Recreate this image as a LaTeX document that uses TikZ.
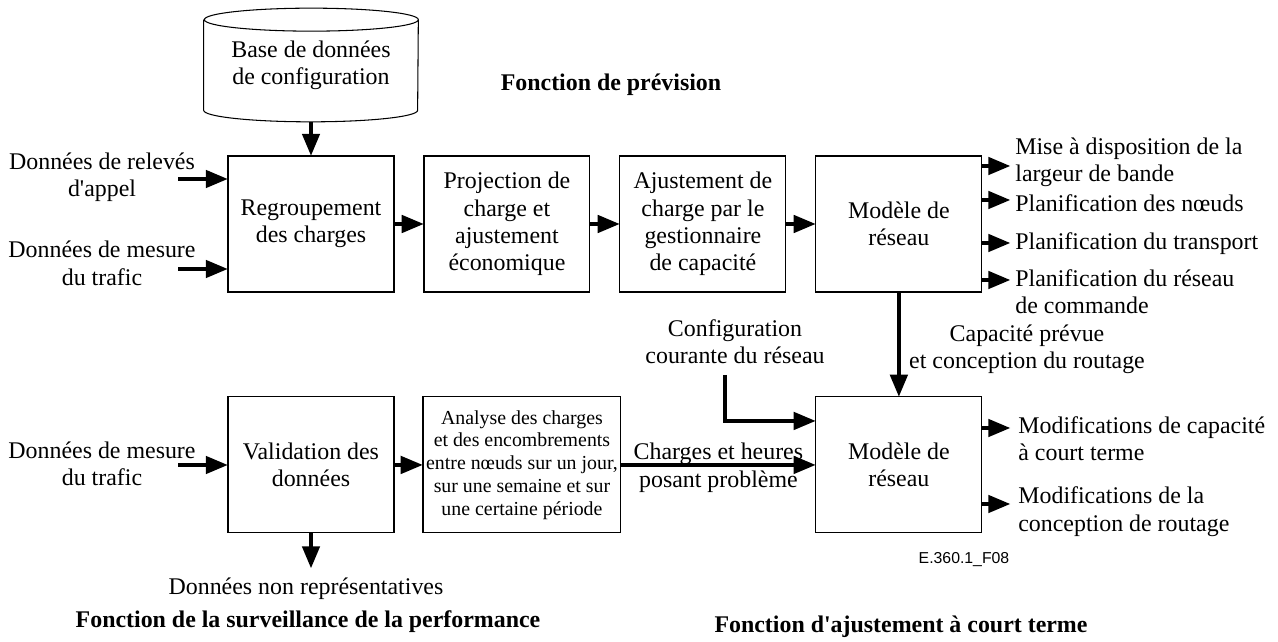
\documentclass[tikz,border=0pt]{standalone}
\usepackage{fontspec}
\setmainfont{Liberation Serif}
\setsansfont{Liberation Sans}
\usepackage{tikz}
\usetikzlibrary{arrows}

\newcommand{\mainsize}{\fontsize{13.6}{15.6}\selectfont}
\newcommand{\smallsize}{\fontsize{11.3}{13}\selectfont}

\tikzstyle{box}     = [rectangle, minimum width=3.32cm, minimum height=2.72cm, text centered, align=center, draw=black, line width=.6pt, inner sep=0pt]
\tikzstyle{txt}     = [align=center, inner sep=0pt]
\tikzstyle{outtxt}  = [align=left, anchor=west, inner sep=0pt]
\tikzstyle{heading} = [font=\mainsize\bfseries, inner sep=0pt]
\tikzstyle{arrow}   = [line width=1.9pt, ->, >=triangle 45]

\begin{document}
\begin{tikzpicture}[x=0.02cm, y=0.02cm, node distance=3.92cm, font=\mainsize]
      \useasboundingbox (0,0) rectangle (1278,642);

      % prevision
      \node (regroup) [box] at (311,418)          {Regroupement\\des charges};
      \node (proj)    [box, right of=regroup]     {Projection de\\charge et\\ajustement\\économique};
      \node (ajust)   [box, right of=proj]        {Ajustement de\\charge par le\\gestionnaire\\de capacité};
      \node (model1)  [box, right of=ajust]       {Modèle de\\réseau};

      \node (db) [rectangle, minimum width=4.28cm, minimum height=1.8cm, inner sep=0pt, align=center] at (311,577) {Base de données\\de configuration};
      \draw [line width=.6pt] (db.north west) -- (db.south west)
            arc [start angle=180, end angle=360, x radius=2.14cm, y radius=.23cm]
            -- (db.north east)
            arc [start angle=0, end angle=360, x radius=2.14cm, y radius=.23cm];

      \node (fprev) [heading] at (611,557) {Fonction de prévision};

      \node (in1) [txt] at (102,465)   {Données de relevés\\d\textquotesingle appel};
      \node (in2) [txt] at (102,378.5) {Données de mesure\\du trafic};
      \coordinate (c1) at (178,463);
      \coordinate (c2) at (178,373);

      \node (mise)   [outtxt] at (1015,479.5) {Mise à disposition de la\\largeur de bande};
      \node (noeuds) [outtxt] at (1015,439)   {Planification des nœuds};
      \node (transp) [outtxt] at (1015,398)   {Planification du transport};
      \node (cmd)    [outtxt] at (1015,350.5) {Planification du réseau\\de commande};
      \coordinate (o1) at (1010,476);
      \coordinate (o2) at (1010,442);
      \coordinate (o3) at (1010,399);
      \coordinate (o4) at (1010,362);

      % surveillance
      \node (valid)   [box, below of=regroup, yshift=-.9cm] {Validation des\\données};
      \node (analyse) [box, right of=valid, xshift=.3cm, minimum width=3.96cm, font=\smallsize] {Analyse des charges\\et des encombrements\\entre nœuds sur un jour,\\sur une semaine et sur\\une certaine période};
      \node (in3) [txt] at (102,178) {Données de mesure\\du trafic};
      \coordinate (c3) at (178,177);
      \coordinate (nr) at (311,74);
      \node (nonrep) [txt] at (306,53) {Données non représentatives};
      \node (fsurv) [heading] at (308,20) {Fonction de la surveillance de la performance};

      % ajustement court terme
      \node (model2) [box, below of=model1, yshift=-.9cm] {Modèle de\\réseau};
      \node (conf) [txt] at (735,300)  {Configuration\\courante du réseau};
      \coordinate (cf) at (725,267);
      \node (cap)  [txt] at (1027,293) {Capacité prévue\\et conception du routage};
      \node (modcap) [outtxt] at (1018,203)   {Modifications de capacité\\à court terme};
      \node (modrt)  [outtxt] at (1018,130.5) {Modifications de la\\conception de routage};
      \coordinate (o5) at (1010,214);
      \coordinate (o6) at (1010,138);
      \node (ref) [font=\sffamily\fontsize{9}{11}\selectfont, inner sep=0pt] at (964,82) {E.360.1\_F08};
      \node (fajust) [heading] at (901,15) {Fonction d\textquotesingle ajustement à court terme};

      \draw [arrow] ([yshift=-.23cm]db.south) -- (regroup);
      \draw [arrow] (c1) -- (c1 -| regroup.west);
      \draw [arrow] (c2) -- (c2 -| regroup.west);
      \draw [arrow] (regroup) -- (proj);
      \draw [arrow] (proj) -- (ajust);
      \draw [arrow] (ajust) -- (model1);
      \draw [arrow] (o1 -| model1.east) -- (o1);
      \draw [arrow] (o2 -| model1.east) -- (o2);
      \draw [arrow] (o3 -| model1.east) -- (o3);
      \draw [arrow] (o4 -| model1.east) -- (o4);

      \draw [arrow] (c3) -- (c3 -| valid.west);
      \draw [arrow] (valid) -- (analyse);
      \draw [arrow] (valid) -- (nr);
      \draw [arrow] (analyse) -- node [txt, yshift=-1.5pt] {Charges et heures\\posant problème} (model2);

      \draw [arrow] (model1) -- (model2);
      \draw [arrow] (cf) |- ([yshift=.88cm]model2.west);
      \draw [arrow] (o5 -| model2.east) -- (o5);
      \draw [arrow] (o6 -| model2.east) -- (o6);

    \end{tikzpicture}
\end{document}
